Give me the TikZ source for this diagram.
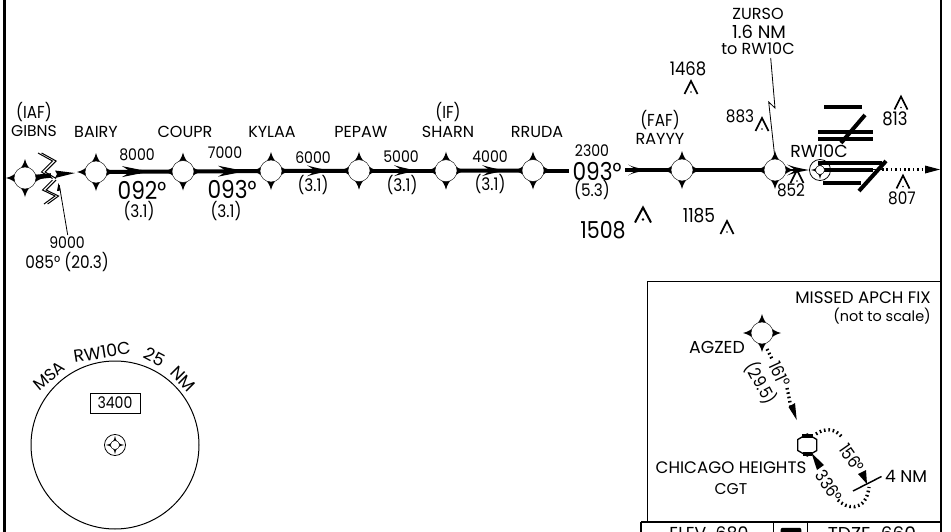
\documentclass[tikz,border=0pt]{standalone}
\usepackage{fontspec}
\usetikzlibrary{shapes.geometric}
\setmainfont{Poppins}
\newfontfamily\numf[FakeStretch=0.88]{Poppins}
\newcommand{\fs}[1]{\fontsize{#1}{#1}\selectfont}
\tikzset{
  lbl/.style={inner sep=0pt,font=\fs{12}},
  num/.style={inner sep=0pt,font=\numf\fs{12}},
  par/.style={inner sep=0pt,font=\numf\fs{13}},
  lblbig/.style={inner sep=0pt,font=\numf\fs{18.5}},
  leg/.style={line width=3pt},
  thinl/.style={line width=0.6pt},
  fixc/.style={circle,fill=white,draw=black,line width=0.3pt,minimum size=16.5pt,inner sep=0pt},
  dots/.style={line width=2.5pt,dash pattern=on 1.2pt off 2.1pt},
  bar/.style={line width=3pt},
  obst/.style={line width=1.3pt,line join=miter},
}
% four pointed fix mark with a white centre node
\newcommand{\fixmark}[3]{%
  \fill[shift={(#2,#3)}] (0,-19) .. controls (2,-10) and (10,-2) .. (19,0)
     .. controls (10,2) and (2,10) .. (0,19) .. controls (-2,10) and (-10,2) .. (-19,0)
     .. controls (-10,-2) and (-2,-10) .. (0,-19) -- cycle;
  \node[fixc] (#1) at (#2,#3) {};}
% swept arrow head, tip at x,y
\newcommand{\headat}[4][24]{%
  \fill[shift={(#2,#3)},rotate=#4] (0,0) .. controls (-8,-1.5) and (-16,-3) .. (-#1,-5.5)
    .. controls (-#1+5,-2.5) and (-#1+7,-1) .. (-#1+8,0)
    .. controls (-#1+7,1) and (-#1+5,2.5) .. (-#1,5.5)
    .. controls (-16,3) and (-8,1.5) .. (0,0) -- cycle;}
% obstacle symbol
\newcommand{\obstacle}[3]{%
  \draw[obst] (#1-6.5,#2+6.5) -- (#1,#2-6.5) -- (#1+6.5,#2+6.5);
  \fill (#1,#2+4.5) circle (0.9);}
\newcommand{\bigobstacle}[3]{%
  \draw[obst,line width=1.5pt] (#1-8,#2+7.5) -- (#1,#2-7.5) -- (#1+8,#2+7.5);
  \fill (#1,#2+4.5) circle (1.4);}
% small facility mark
\newcommand{\smallstar}[3]{%
  \node[circle,draw=black,line width=0.6pt,minimum size=15.8pt,inner sep=0pt] (#1) at (#2,#3) {};
  \fill[shift={(#2,#3)}] (0,-9) .. controls (0.5,-4) and (4,-0.5) .. (9,0)
     .. controls (4,0.5) and (0.5,4) .. (0,9) .. controls (-0.5,4) and (-4,0.5) .. (-9,0)
     .. controls (-4,-0.5) and (-0.5,-4) .. (0,-9) -- cycle;
  \fill[white] (#2,#3) circle (4.5);
  \draw[line width=0.3pt] (#2,#3) circle (4.5);}
\begin{document}
\begin{tikzpicture}[x=0.75pt,y=-0.75pt]
\clip (0,0) rectangle (951,532);
\fill[white] (0,0) rectangle (951,532);
% frame
\draw[line width=1.6pt] (4.5,-2) -- (4.5,534);
\draw[line width=1.6pt] (941,-2) -- (941,534);
% fixes
\fixmark{gibns}{25}{178}
\fixmark{bairy}{96}{172}
\fixmark{coupr}{183}{171.5}
\fixmark{kylaa}{271}{171}
\fixmark{pepaw}{359}{170.7}
\fixmark{sharn}{446}{170.7}
\fixmark{rruda}{533}{170.5}
\fixmark{rayyy}{682}{170}
\fixmark{zurso}{775}{170}
% free ends
\coordinate (gend) at (51,175.5);
\coordinate (rend) at (569,170.5);
\coordinate (fstart) at (625,170);
\coordinate (zend) at (795,170);
% legs
\draw[line width=3.4pt] (gibns) -- (gend);
\draw[leg] (bairy) -- (coupr);
\draw[leg] (coupr) -- (kylaa);
\draw[leg] (kylaa) -- (pepaw);
\draw[leg] (pepaw) -- (sharn);
\draw[leg] (sharn) -- (rruda);
\draw[leg] (rruda) -- (rend);
\draw[leg] (fstart) -- (rayyy);
\draw[leg] (rayyy) -- (zurso);
\draw[leg,line width=2pt] (zurso) -- (zend);
% arrowheads
\headat[28]{150}{171.6}{0}
\headat[28]{246}{171.2}{0}
\headat[24]{331}{170.8}{0}
\headat[24]{418}{170.7}{0}
\headat[24]{506}{170.6}{0}
\headat[20]{648}{170}{0}
\headat[22]{809}{170}{0}
% inbound arrow head and course break
\fill (75,173) -- (55,170.5) -- (57,174) -- (55,178) -- cycle;
\foreach \d in {0,3.6}{
  \draw[line width=0.75pt,xshift=\d*0.75pt] (38,153) -- (52.5,161) -- (41.5,172) -- (52.5,178.5);
  \draw[line width=0.75pt,xshift=\d*0.75pt] (52.5,180) -- (42.5,190) -- (55,196) -- (44,204);
}
% leader for GIBNS
\coordinate (gl1) at (59.3,185);
\coordinate (gl2) at (67.7,235);
\draw[thinl] (gl1) -- (gl2);
\fill (58.5,183) -- (57,191) -- (60.5,190.5) -- cycle;
% fix names
\node[par] (t1) at (34,112) {(IAF)};
\node[lbl,font=\fs{11.7}] (t2) at (34,131) {GIBNS};
\node[lbl] (t3) at (96,132) {BAIRY};
\node[lbl] (t4) at (185,132) {COUPR};
\node[lbl] (t5) at (272,132) {KYLAA};
\node[lbl] (t6) at (361,132) {PEPAW};
\node[par] (t7) at (448,112) {(IF)};
\node[lbl] (t8) at (448,132) {SHARN};
\node[lbl] (t9) at (537,132) {RRUDA};
\node[par] (t10) at (660,120) {(FAF)};
\node[lbl] (t11) at (660,139) {RAYYY};
% altitudes
\node[num] (a1) at (137,155) {8000};
\node[num] (a2) at (225,153) {7000};
\node[num] (a3) at (313,158) {6000};
\node[num] (a4) at (401,157) {5000};
\node[num] (a5) at (490,157) {4000};
\node[num] (a6) at (592,151) {2300};
\node[lblbig] (c1) at (142,190) {092°};
\node[lblbig] (c2) at (232,189) {093°};
\node[lblbig] (c3) at (597,171) {093°};
\node[par] (d1) at (139,211) {(3.1)};
\node[par] (d2) at (226,211) {(3.1)};
\node[par] (d3) at (313,185) {(3.1)};
\node[par] (d4) at (402,185) {(3.1)};
\node[par] (d5) at (490,184) {(3.1)};
\node[par] (d6) at (592,190) {(5.3)};
\node[num] (g1) at (67,243) {9000};
\node[par] (g2) at (67,262) {085° (20.3)};
% ZURSO
\node[lbl] (z1) at (758,14) {ZURSO};
\node[lbl,font=\fs{13.5}] (z2) at (759,32) {1.6 NM};
\node[lbl] (z3) at (758,49) {to RW10C};
\draw[thinl] (770.7,58) -- (775,108) -- (768.7,102) -- (zurso.north);
% obstacles
\node[num,font=\numf\fs{14}] (o1) at (688,69) {1468};
\obstacle{691}{87.5}{}
\node[num,font=\numf\fs{13}] (o2) at (740,116) {883};
\obstacle{762}{124.5}{}
\node[lblbig,font=\numf\fs{17.5}] (o3) at (603,230) {1508};
\bigobstacle{643}{215}{}
\node[num,font=\numf\fs{14.5}] (o4) at (699,216) {1185};
\obstacle{727}{227.5}{}
\obstacle{797}{176.5}{}
\node[num,font=\numf\fs{13}] (o5) at (791,190) {852};
\obstacle{901}{103}{}
\node[num,font=\numf\fs{14}] (o6) at (895,119) {813};
\obstacle{903}{182}{}
\node[num,font=\numf\fs{13}] (o7) at (902,198) {807};
% runways
\draw[bar] (824,107) -- (862,107);
\draw[bar] (818,132) -- (873,132);
\draw[bar] (818,139) -- (873,139);
\draw[bar] (865,115) -- (841,143);
\draw[bar] (818,163) -- (882,163);
\draw[bar] (818,169.5) -- (873,169.5);
\draw[line width=0.6pt] (873,169.5) -- (882,169.5);
\draw[bar] (823,183) -- (861,183);
\draw[bar] (886,161) -- (859,191);
\node[lbl,font=\fs{13}] (rw) at (819,151) {RW10C};
\smallstar{rwc}{820}{170}{}
\coordinate (mastart) at (882,169.5);
\coordinate (maend) at (926,169.5);
\draw[dots] (mastart) -- (maend);
\fill (940,169.5) -- (925,165.5) -- (925,173.5) -- cycle;
% MSA
\node[circle,draw=black,line width=0.75pt,minimum size=126pt,inner sep=0pt] (msa) at (115,445) {};
\node[lbl,font=\fs{12.5},rotate=40] (m1) at (49,376) {MSA};
\node[lbl,font=\fs{13},rotate=9] (m2) at (102,352) {RW10C};
\node[lbl,font=\fs{13},rotate=-28] (m3) at (155,357) {25};
\node[lbl,font=\fs{13},rotate=-45] (m4) at (183,379) {NM};
\node[draw=black,line width=0.6pt,minimum width=37.5pt,minimum height=15pt,inner sep=0pt,font=\numf\fs{12}] (m5) at (115,403) {3400};
\smallstar{mc}{115}{445}{}
% missed approach box
\draw[line width=0.75pt] (647.5,522) -- (647.5,281) -- (941,281);
\node[lbl,font=\fs{12.5},anchor=east] (x1) at (931,298) {MISSED APCH FIX};
\node[par,font=\fs{10.8},anchor=east] (x2) at (931,316) {(not to scale)};
\fixmark{agzed}{762}{333}
\node[lbl,font=\fs{13}] (x3) at (717,347.5) {AGZED};
\coordinate (d161a) at (767,349);
\coordinate (d161c) at (772,359);
\coordinate (d161d) at (787,388);
\coordinate (d161b) at (791,407);
\draw[dots] (d161a) -- (d161c);
\draw[dots] (d161d) -- (d161b);
\fill (796.7,420) -- (788.5,407) -- (795,403) -- cycle;
\node[par,rotate=-65] (x4) at (780,374) {161°};
\node[par,rotate=-62] (x5) at (761,383) {(29.5)};
% VOR hexagon
\node[regular polygon,regular polygon sides=6,shape border rotate=30,draw=black,line width=1pt,minimum size=16.5pt,inner sep=0pt] (cgt) at (807.3,445) {};
\draw[line width=2.6pt] (802,436) -- (813,436);
\draw[line width=2.6pt] (803,454) -- (812,454);
\node[lbl,font=\fs{12.5}] (x6) at (731,468) {CHICAGO HEIGHTS};
\node[lbl,font=\fs{11.7}] (x7) at (731,489) {CGT};
% holding pattern
\coordinate (h1) at (816,434);
\coordinate (h2) at (842,437);
\draw[dots] (h1) .. controls (824,428) and (835,428) .. (h2);
\fill (867,484) -- (858,474) -- (866,470) -- cycle;
\node[par,rotate=-55] (x8) at (852,458) {156°};
\coordinate (h3) at (853,491);
\coordinate (h4) at (881.5,476.5);
\draw[line width=1.1pt] (h3) -- (h4);
\node[lbl,font=\fs{12.8}] (x9) at (906,476) {4 NM};
\fill (811.5,453) -- (817,470) -- (824,465) -- cycle;
\node[par,rotate=-55] (x10) at (829,486) {336°};
\coordinate (h5) at (838,500);
\coordinate (h6) at (869,487);
\draw[dots] (h5) .. controls (845,508) and (866,514) .. (h6);
% data strip
\draw[line width=1.5pt] (641,522) -- (942,522);
\draw[line width=1.5pt] (641,522) -- (641,534);
\draw[line width=0.75pt] (773.5,522) -- (773.5,534);
\draw[line width=0.75pt] (807.5,522) -- (807.5,534);
\node[lbl,anchor=north,font=\fs{13}] (e1) at (709,526) {ELEV\ \ 680};
\node[lbl,anchor=north,font=\fs{14}] (e2) at (872,526) {TDZE\ \ 660};
\node[fill=black,rounded corners=1.5pt,minimum width=15.5pt,minimum height=15pt,inner sep=0pt,anchor=north] (e3) at (791,527.5) {\fs{10}\color{white}D};
\end{tikzpicture}
\end{document}
